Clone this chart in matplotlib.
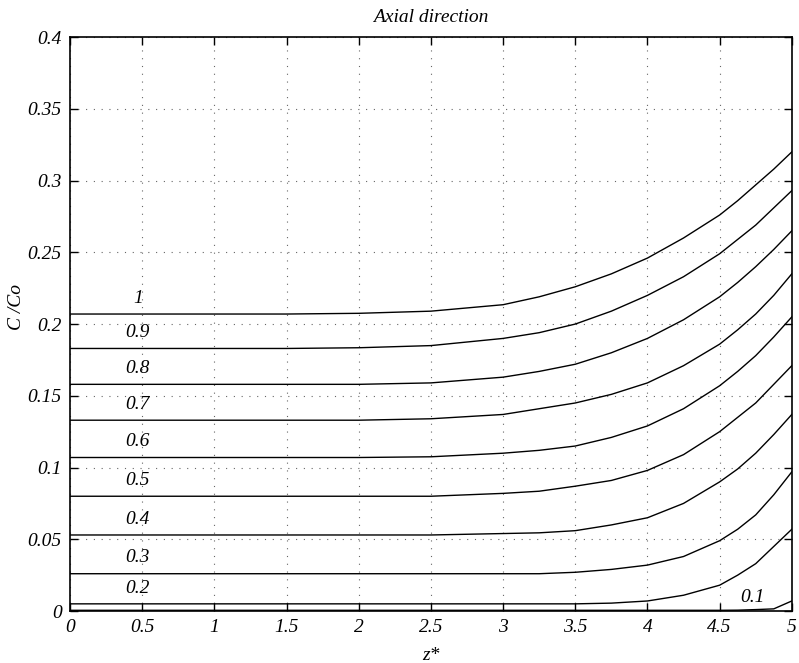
import matplotlib
matplotlib.use("Agg")
import matplotlib.pyplot as plt
import numpy as np

plt.rcParams['font.family'] = ['Liberation Serif', 'DejaVu Serif']
plt.rcParams['font.style'] = 'italic'

z = [0, 0.5, 1, 1.5, 2, 2.5, 3, 3.25, 3.5, 3.75, 4, 4.25, 4.5, 4.625, 4.75, 4.875, 5]

# C/Co for each curve, keyed by its label
c_10 = [.207, .207, .207, .207, .2075, .209, .2135, .219, .226, .235, .246, .260, .276, .286, .297, .308, .320]
c_09 = [.183, .183, .183, .183, .1835, .185, .190, .194, .200, .209, .220, .233, .249, .259, .269, .281, .293]
c_08 = [.158, .158, .158, .158, .158, .159, .163, .167, .172, .180, .190, .203, .219, .229, .240, .252, .265]
c_07 = [.133, .133, .133, .133, .133, .134, .137, .141, .145, .151, .159, .171, .186, .196, .207, .220, .235]
c_06 = [.107, .107, .107, .107, .107, .1075, .110, .112, .115, .121, .129, .141, .157, .167, .178, .191, .205]
c_05 = [.080, .080, .080, .080, .080, .080, .082, .0835, .087, .091, .098, .109, .125, .135, .145, .158, .171]
c_04 = [.053, .053, .053, .053, .053, .053, .054, .0545, .056, .060, .065, .075, .090, .099, .110, .123, .137]
c_03 = [.026, .026, .026, .026, .026, .026, .026, .026, .027, .029, .032, .038, .049, .057, .067, .081, .097]
c_02 = [.005, .005, .005, .005, .005, .005, .005, .005, .005, .0055, .007, .011, .018, .025, .033, .045, .057]
c_01 = [.0005, .0005, .0005, .0005, .0005, .0005, .0005, .0005, .0005, .0005, .0005, .0005, .0005, .0006, .001, .0015, .007]

curves = [c_10, c_09, c_08, c_07, c_06, c_05, c_04, c_03, c_02]
labels = ['1', '0.9', '0.8', '0.7', '0.6', '0.5', '0.4', '0.3', '0.2']

xticks = [0, 0.5, 1, 1.5, 2, 2.5, 3, 3.5, 4, 4.5, 5]
xticklabels = ['0', '0.5', '1', '1.5', '2', '2.5', '3', '3.5', '4', '4.5', '5']
yticks = [0, 0.05, 0.1, 0.15, 0.2, 0.25, 0.3, 0.35, 0.4]
yticklabels = ['0', '0.05', '0.1', '0.15', '0.2', '0.25', '0.3', '0.35', '0.4']

fig = plt.figure(figsize=(7.99, 6.63), dpi=100)
ax = fig.add_axes([0.0876, 0.0784, 0.9034, 0.8656])

for c, lab in zip(curves, labels):
    ax.plot(z, c, color='black', lw=1.0)
    ax.text(0.47, c[0] + 0.011, lab, ha='center', va='center', fontsize=14)
ax.plot(z, c_01, color='black', lw=1.0)
ax.text(4.73, 0.0095, '0.1', ha='center', va='center', fontsize=14)

ax.set_xlim(0, 5)
ax.set_ylim(0, 0.4)
ax.set_xticks(xticks)
ax.set_xticklabels(xticklabels)
ax.set_yticks(yticks)
ax.set_yticklabels(yticklabels)
ax.tick_params(direction='in', top=True, right=True, length=6, width=1.0,
               labelsize=14, pad=6)
ax.grid(True, linestyle=(0, (1, 6)), color='#666666', lw=0.8)
for s in ax.spines.values():
    s.set_linewidth(1.2)

ax.set_title('Axial direction', fontsize=14, pad=11)
ax.set_xlabel('z*', fontsize=14, labelpad=8)
ax.set_ylabel('C /Co', fontsize=14)
ax.yaxis.set_label_coords(-0.062, 0.53)

fig.savefig('out.png', dpi=100)
